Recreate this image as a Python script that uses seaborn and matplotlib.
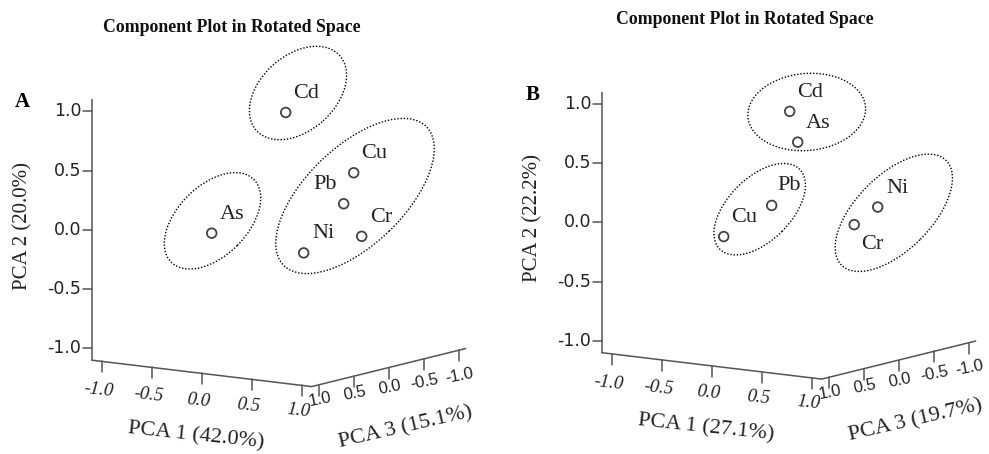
import numpy as np
import pandas as pd
import matplotlib
matplotlib.use("Agg")
import matplotlib.pyplot as plt
from matplotlib.patches import Ellipse
import seaborn as sns

# ---------------- data (rotated component loadings) ----------------
elements_a = ["Cd", "As", "Cu", "Pb", "Cr", "Ni"]
pca1_a = [0.14, -0.04, 0.82, 0.79, 0.83, 0.60]
pca2_a = [0.97, 0.05, 0.53, 0.28, -0.02, -0.11]
pca3_a = [0.10, 0.90, 0.10, 0.20, 0.00, 0.50]

elements_b = ["Cd", "As", "Pb", "Cu", "Ni", "Cr"]
pca1_b = [0.08, 0.23, 0.39, -0.02, 0.89, 0.76]
pca2_b = [0.91, 0.68, 0.25, -0.04, 0.17, 0.03]
pca3_b = [0.10, 0.20, 0.80, 0.90, 0.00, 0.15]

axis_titles_a = ["PCA 1 (42.0%)", "PCA 2 (20.0%)", "PCA 3 (15.1%)"]
axis_titles_b = ["PCA 1 (27.1%)", "PCA 2 (22.2%)", "PCA 3 (19.7%)"]
tick_values = [-1.0, -0.5, 0.0, 0.5, 1.0]
tick_labels = ["-1.0", "-0.5", "0.0", "0.5", "1.0"]
title_text = "Component Plot in Rotated Space"
panel_letters = ["A", "B"]

# ---------------- styling / layout ----------------
sns.set_style("white")
plt.rcParams["font.family"] = ["Liberation Serif", "DejaVu Serif"]

SERIF = "Liberation Serif"
SANS = "DejaVu Sans"
SANS2 = "Liberation Sans"
AX_COLOR = "#555555"
E = 1.1  # axis extent


def proj(p1, p2, p3):
    p1 = np.asarray(p1, float)
    p2 = np.asarray(p2, float)
    p3 = np.asarray(p3, float)
    X = p1 - 0.70 * p3
    Y = 1.185 * p2 - 0.12 * p1 - 0.173 * p3
    return X, Y


# group ellipses (projected space): cx, cy, width, height, angle
ellipses_a = [(0.193, 1.31, 1.12, 0.75, 42),
              (-0.662, 0.032, 1.17, 0.70, 45),
              (0.763, 0.28, 1.99, 0.98, 44)]
ellipses_b = [(0.18, 1.045, 1.18, 0.77, 5),
              (-0.29, 0.073, 1.13, 0.63, 45),
              (1.051, 0.037, 1.48, 0.75, 45)]

label_offsets_a = {"Pb": (-0.19, 0.19)}
label_offsets_b = {"Pb": (0.17, 0.20), "Cr": (0.18, -0.20)}

fig = plt.figure(figsize=(9.89, 4.54), dpi=100)
W, H = 989, 454

panels = [
    dict(rect=(0, 494), origin=(278.7, 224.0), els=elements_a,
         p=(pca1_a, pca2_a, pca3_a), titles=axis_titles_a,
         ell=ellipses_a, offs=label_offsets_a, letter=panel_letters[0],
         title_xy=(232, 28)),
    dict(rect=(494, 989), origin=(788.7, 216.5), els=elements_b,
         p=(pca1_b, pca2_b, pca3_b), titles=axis_titles_b,
         ell=ellipses_b, offs=label_offsets_b, letter=panel_letters[1],
         title_xy=(745, 20)),
]

for pn in panels:
    x_left, x_right = pn["rect"]
    ox, oy = pn["origin"]
    ax = fig.add_axes([x_left / W, 0, (x_right - x_left) / W, 1])
    ax.set_xlim((x_left - ox) / 100, (x_right - ox) / 100)
    ax.set_ylim((oy - H) / 100, oy / 100)
    ax.set_axis_off()

    # axes lines
    t = np.array([-E, E])
    vx, vy = proj([-E, -E], t, [E, E])
    ax.plot(vx, vy, color=AX_COLOR, lw=1.1, solid_capstyle="butt")
    hx, hy = proj(t, [-E, -E], [E, E])
    ax.plot(hx, hy, color=AX_COLOR, lw=1.1)
    dx, dy = proj([E, E], [-E, -E], [E, -E])
    ax.plot(dx, dy, color=AX_COLOR, lw=1.1)

    # vertical (PCA 2) ticks
    for v, lab in zip(tick_values, tick_labels):
        bx, by = proj(-E, v, E)
        ax.plot([bx - 0.09, bx], [by, by], color=AX_COLOR, lw=1.1)
        ax.text(bx - 0.105, by, lab, ha="right", va="center",
                fontsize=12.5, family=SANS, color="#222222")
    # PCA 1 ticks
    for v, lab in zip(tick_values, tick_labels):
        bx, by = proj(v, -E, E)
        ax.plot([bx, bx], [by, by - 0.11], color=AX_COLOR, lw=1.1)
        ax.text(bx - 0.03, by - (0.27 - 0.019 * v), lab, ha="center",
                va="center", fontsize=13.5, family=SERIF, style="italic",
                rotation=-6, color="#222222")
    # PCA 3 ticks
    for v, lab in zip(tick_values, tick_labels):
        bx, by = proj(E, -E, v)
        ax.plot([bx, bx], [by, by - 0.11], color=AX_COLOR, lw=1.1)
        ax.text(bx + 0.01, by - (0.20 - 0.052 * v), lab, ha="center",
                va="center", fontsize=12, family=SANS2, rotation=11,
                color="#222222")

    # axis titles
    t1, t2, t3 = pn["titles"]
    ax.text(-0.83, -2.12, t1, ha="center", va="center", fontsize=16,
            family=SERIF, rotation=-6, color="#222222")
    ax.text(-2.56, -0.02, t2, ha="center", va="center", fontsize=15,
            family=SERIF, rotation=90, color="#222222")
    ax.text(1.27, -2.04, t3, ha="center", va="center", fontsize=16,
            family=SERIF, rotation=13, color="#222222")

    # panel letter
    ax.text(-2.56, 1.22, pn["letter"], ha="center", va="center",
            fontsize=15, family=SERIF, weight="bold", color="black")

    # points
    p1, p2, p3 = pn["p"]
    X, Y = proj(p1, p2, p3)
    df = pd.DataFrame({"element": pn["els"], "X": X, "Y": Y})
    sns.scatterplot(data=df, x="X", y="Y", ax=ax, s=48, marker="o",
                    facecolors="none", edgecolor="#444444", linewidth=1.3,
                    legend=False, zorder=3)
    for el, xx, yy in zip(df["element"], df["X"], df["Y"]):
        ddx, ddy = pn["offs"].get(el, (0.20, 0.19))
        ax.text(xx + ddx, yy + ddy, el, ha="center", va="center",
                fontsize=16, family=SERIF, color="#222222")

    # group ellipses
    for cx, cy, w, h, ang in pn["ell"]:
        ax.add_patch(Ellipse((cx, cy), w, h, angle=ang, fill=False,
                             edgecolor="black", lw=1.0,
                             linestyle=(0, (1, 1.3))))
    ax.set_xlabel("")
    ax.set_ylabel("")

    tx, ty = pn["title_xy"]
    fig.text(tx / W, 1 - ty / H, title_text, ha="center", va="center",
             fontsize=12.8, family=SERIF, weight="bold", color="#111111")

fig.savefig("out.png", dpi=100)
